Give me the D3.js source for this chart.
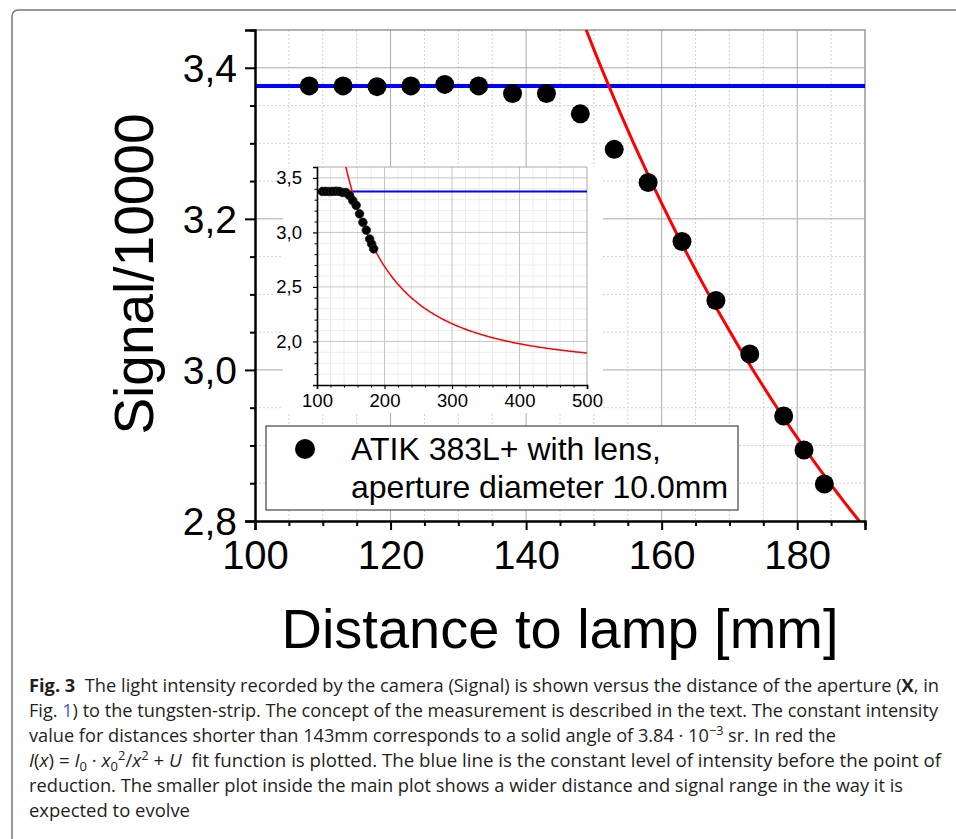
<!DOCTYPE html>
<html>
<head>
<meta charset="utf-8">
<script src="https://cdn.jsdelivr.net/npm/d3@7"></script>
<style>
  body { margin: 0; background: #fff; }
  svg { display: block; }
</style>
</head>
<body>
<svg id="chart"></svg>
<script>
/* CONSTANTS AND GLOBALS */
const width = 956, height = 839;
const font = "'Liberation Sans', Arial, sans-serif";

/* DATA */
// distance to lamp [mm] and signal/10000
const distance = [108, 113, 118, 123, 128, 133, 138, 143, 148, 153, 158, 163, 168, 173, 178, 181, 184];
const signal = [3.376, 3.376, 3.375, 3.376, 3.378, 3.376, 3.366, 3.366, 3.339, 3.292, 3.248, 3.170, 3.092, 3.021, 2.939, 2.894, 2.849];
// constant level (blue) and fit I(x) = I0 * x0^2 / x^2 + U (red)
const blueLevel = 3.376;
const fitI0 = 1.634, fitX0 = 152.2, fitU = 1.742;

const mainXTicks = [100, 120, 140, 160, 180];
const mainYTicks = [2.8, 3.0, 3.2, 3.4];
const insetXTicks = [100, 200, 300, 400, 500];
const insetYTicks = [2.0, 2.5, 3.0, 3.5];
const legendLines = ["ATIK 383L+ with lens,", "aperture diameter 10.0mm"];

const fit = d => fitI0 * fitX0 * fitX0 / (d * d) + fitU;
const comma = d => d3.format(".1f")(d).replace(".", ",");

const svg = d3.select("#chart")
  .attr("width", width)
  .attr("height", height);

// outer figure frame
svg.append("rect")
  .attr("x", 12).attr("y", 10)
  .attr("width", 1000).attr("height", 900)
  .attr("rx", 6)
  .attr("fill", "none")
  .attr("stroke", "#777")
  .attr("stroke-width", 1.5);

/* MAIN PLOT SCALES */
const m = { left: 255, right: 865, top: 30, bottom: 521 };
const xScale = d3.scaleLinear().domain([100, 190]).range([m.left, m.right]);
const yScale = d3.scaleLinear().domain([2.8, 3.45]).range([m.bottom, m.top]);

const xMinor = d3.range(105, 190, 5).filter(d => d % 20 !== 0);
const yMinor = d3.range(57, 70).map(k => +(k * 0.05).toFixed(2)).filter(d => !mainYTicks.includes(d));

// grid
const grid = svg.append("g");
grid.selectAll(".vminor").data(xMinor).join("line")
  .attr("x1", d => xScale(d)).attr("x2", d => xScale(d))
  .attr("y1", m.top).attr("y2", m.bottom)
  .attr("stroke", "#d2d2d2").attr("stroke-dasharray", "2,2");
grid.selectAll(".hminor").data(yMinor).join("line")
  .attr("x1", m.left).attr("x2", m.right)
  .attr("y1", d => yScale(d)).attr("y2", d => yScale(d))
  .attr("stroke", "#d2d2d2").attr("stroke-dasharray", "2,2");
grid.selectAll(".vmajor").data(mainXTicks.slice(1)).join("line")
  .attr("x1", d => xScale(d)).attr("x2", d => xScale(d))
  .attr("y1", m.top).attr("y2", m.bottom)
  .attr("stroke", "#aaa");
grid.selectAll(".hmajor").data(mainYTicks.slice(1)).join("line")
  .attr("x1", m.left).attr("x2", m.right)
  .attr("y1", d => yScale(d)).attr("y2", d => yScale(d))
  .attr("stroke", "#aaa");
// top / right frame
grid.append("path")
  .attr("d", `M${m.left},${m.top}H${m.right}V${m.bottom}`)
  .attr("fill", "none").attr("stroke", "#999").attr("stroke-width", 1.5);

// blue constant level
svg.append("line")
  .attr("x1", m.left).attr("x2", m.right)
  .attr("y1", yScale(blueLevel)).attr("y2", yScale(blueLevel))
  .attr("stroke", "#0000ff").attr("stroke-width", 4);

// red fit, clipped to the plot
svg.append("clipPath").attr("id", "clipMain")
  .append("rect")
  .attr("x", m.left).attr("y", m.top)
  .attr("width", m.right - m.left).attr("height", m.bottom - m.top);

const fitXs = d3.range(140, 191, 1);
svg.append("path")
  .datum(fitXs)
  .attr("clip-path", "url(#clipMain)")
  .attr("fill", "none")
  .attr("stroke", "#ff0000")
  .attr("stroke-width", 3)
  .attr("d", d3.line().x(d => xScale(d)).y(d => yScale(fit(d))));

// points
svg.append("g").selectAll("circle")
  .data(distance)
  .join("circle")
  .attr("cx", d => xScale(d))
  .attr("cy", (d, i) => yScale(signal[i]))
  .attr("r", 9.5)
  .attr("fill", "#000");

/* INSET */
const im = { left: 317, right: 587, top: 167, bottom: 385 };
const xInset = d3.scaleLinear().domain([100, 500]).range([im.left, im.right]);
const yInset = d3.scaleLinear().domain([1.6, 3.6]).range([im.bottom, im.top]);

const inset = svg.append("g");
inset.append("rect")
  .attr("x", 283).attr("y", im.top)
  .attr("width", 320).attr("height", 246)
  .attr("fill", "#fff");

const ixMinor = d3.range(120, 500, 20).filter(d => d % 100 !== 0);
const iyMinor = d3.range(17, 36).map(k => +(k * 0.1).toFixed(1)).filter(d => !insetYTicks.includes(d));

inset.selectAll(".ivminor").data(ixMinor).join("line")
  .attr("x1", d => xInset(d)).attr("x2", d => xInset(d))
  .attr("y1", im.top).attr("y2", im.bottom)
  .attr("stroke", "#ececec");
inset.selectAll(".ihminor").data(iyMinor).join("line")
  .attr("x1", im.left).attr("x2", im.right)
  .attr("y1", d => yInset(d)).attr("y2", d => yInset(d))
  .attr("stroke", "#ececec");
inset.selectAll(".ivmajor").data(insetXTicks.slice(1, -1)).join("line")
  .attr("x1", d => xInset(d)).attr("x2", d => xInset(d))
  .attr("y1", im.top).attr("y2", im.bottom)
  .attr("stroke", "#c4c4c4");
inset.selectAll(".ihmajor").data(insetYTicks).join("line")
  .attr("x1", im.left).attr("x2", im.right)
  .attr("y1", d => yInset(d)).attr("y2", d => yInset(d))
  .attr("stroke", "#c4c4c4");
inset.append("path")
  .attr("d", `M${im.left},${im.top}H${im.right}V${im.bottom}`)
  .attr("fill", "none").attr("stroke", "#aaa");

inset.append("line")
  .attr("x1", im.left).attr("x2", im.right)
  .attr("y1", yInset(blueLevel)).attr("y2", yInset(blueLevel))
  .attr("stroke", "#0000ff").attr("stroke-width", 2);

svg.append("clipPath").attr("id", "clipInset")
  .append("rect")
  .attr("x", im.left).attr("y", im.top)
  .attr("width", im.right - im.left).attr("height", im.bottom - im.top);

inset.append("path")
  .datum(d3.range(130, 501, 2))
  .attr("clip-path", "url(#clipInset)")
  .attr("fill", "none")
  .attr("stroke", "#ff0000")
  .attr("stroke-width", 1.5)
  .attr("d", d3.line().x(d => xInset(d)).y(d => yInset(fit(d))));

inset.append("g").selectAll("circle")
  .data(distance)
  .join("circle")
  .attr("cx", d => xInset(d))
  .attr("cy", (d, i) => yInset(signal[i]))
  .attr("r", 4.3)
  .attr("fill", "#000")
  .attr("stroke", "#222")
  .attr("stroke-width", 0.8);

// inset axes
const ixMinorG = inset.append("g").attr("transform", `translate(0,${im.bottom})`)
  .call(d3.axisBottom(xInset).tickValues(ixMinor).tickSize(2.5).tickFormat(""));
ixMinorG.select(".domain").remove();
const ixG = inset.append("g").attr("transform", `translate(0,${im.bottom})`)
  .call(d3.axisBottom(xInset).tickValues(insetXTicks).tickSize(4).tickFormat(d3.format("d")));
ixG.attr("font-size", 18.5).attr("font-family", font);
ixG.selectAll("text").attr("y", 22).attr("dy", null).attr("fill", "#000");

const iyMinorG = inset.append("g").attr("transform", `translate(${im.left},0)`)
  .call(d3.axisLeft(yInset).tickValues(iyMinor).tickSize(2.5).tickFormat(""));
iyMinorG.select(".domain").remove();
const iyG = inset.append("g").attr("transform", `translate(${im.left},0)`)
  .call(d3.axisLeft(yInset).tickValues(insetYTicks).tickSize(4).tickFormat(comma));
iyG.attr("font-size", 18.5).attr("font-family", font);
iyG.selectAll("text").attr("x", -15).attr("fill", "#000");

[ixG, iyG].forEach(g => {
  g.select(".domain").attr("stroke-width", 1.6);
  g.selectAll(".tick line").attr("stroke-width", 1.2);
});

/* LEGEND */
const legend = svg.append("g");
legend.append("rect")
  .attr("x", 266).attr("y", 426)
  .attr("width", 472).attr("height", 84)
  .attr("fill", "#fff")
  .attr("stroke", "#444").attr("stroke-width", 1.2);
legend.append("circle")
  .attr("cx", 305).attr("cy", 449).attr("r", 10).attr("fill", "#000");
legend.selectAll("text").data(legendLines).join("text")
  .attr("x", 351)
  .attr("y", (d, i) => 460 + i * 38)
  .attr("font-family", font)
  .attr("font-size", 32)
  .text(d => d);

/* MAIN AXES */
const xMinorG = svg.append("g").attr("transform", `translate(0,${m.bottom})`)
  .call(d3.axisBottom(xScale).tickValues(xMinor.concat([190])).tickSize(5).tickFormat(""));
xMinorG.select(".domain").remove();
const xAxisG = svg.append("g").attr("transform", `translate(0,${m.bottom})`)
  .call(d3.axisBottom(xScale).tickValues(mainXTicks).tickSize(9).tickFormat(d3.format("d")));
xAxisG.attr("font-size", 40).attr("font-family", font);
xAxisG.selectAll("text").attr("y", 48).attr("dy", null).attr("fill", "#000");

const yMinorG = svg.append("g").attr("transform", `translate(${m.left},0)`)
  .call(d3.axisLeft(yScale).tickValues(yMinor).tickSize(5).tickFormat(""));
yMinorG.select(".domain").remove();
const yAxisG = svg.append("g").attr("transform", `translate(${m.left},0)`)
  .call(d3.axisLeft(yScale).tickValues(mainYTicks).tickSize(10).tickFormat(comma));
yAxisG.attr("font-size", 39).attr("font-family", font);
yAxisG.selectAll("text").attr("x", -18).attr("dy", "0.35em").attr("fill", "#000");

[xMinorG, xAxisG, yMinorG, yAxisG].forEach(g => {
  g.select(".domain").attr("stroke-width", 2.5);
  g.selectAll(".tick line").attr("stroke-width", 2);
});

// axis titles
svg.append("text")
  .attr("x", 560).attr("y", 648)
  .attr("text-anchor", "middle")
  .attr("font-family", font)
  .attr("font-size", 56)
  .text("Distance to lamp [mm]");

svg.append("text")
  .attr("transform", "translate(153,274) rotate(-90)")
  .attr("text-anchor", "middle")
  .attr("font-family", font)
  .attr("font-size", 55)
  .text("Signal/10000");

/* CAPTION */
const cap = svg.append("g")
  .attr("font-family", "'Open Sans', 'Noto Sans', sans-serif")
  .attr("font-size", 18)
  .attr("fill", "#231f20");

const line = (y, len) => cap.append("text")
  .attr("x", 29).attr("y", y)
  .attr("textLength", len)
  .attr("lengthAdjust", "spacingAndGlyphs");

let t = line(692, 910);
t.append("tspan").attr("font-weight", "bold").text("Fig. 3");
t.append("tspan").text("\u00a0 The light intensity recorded by the camera (Signal) is shown versus the distance of the aperture (");
t.append("tspan").attr("font-weight", "bold").text("X");
t.append("tspan").text(", in");

t = line(717, 909);
t.append("tspan").text("Fig. ");
t.append("tspan").attr("fill", "#3b5ed8").text("1");
t.append("tspan").text(") to the tungsten-strip. The concept of the measurement is described in the text. The constant intensity");

t = line(742, 807);
t.append("tspan").text("value for distances shorter than 143mm corresponds to a solid angle of 3.84 \u00b7 10");
t.append("tspan").attr("font-size", 12.5).attr("dy", -7).text("\u22123");
t.append("tspan").attr("dy", 7).text(" sr. In red the");

t = line(767, 912);
t.append("tspan").attr("font-style", "italic").text("I");
t.append("tspan").text("(");
t.append("tspan").attr("font-style", "italic").text("x");
t.append("tspan").text(") = ");
t.append("tspan").attr("font-style", "italic").text("I");
t.append("tspan").attr("font-size", 12.5).attr("dy", 4).text("0");
t.append("tspan").attr("dy", -4).text(" \u00b7 ");
t.append("tspan").attr("font-style", "italic").text("x");
t.append("tspan").attr("font-size", 12.5).attr("dy", 4).text("0");
t.append("tspan").attr("font-size", 12.5).attr("dy", -11).text("2");
t.append("tspan").attr("dy", 7).text("/");
t.append("tspan").attr("font-style", "italic").text("x");
t.append("tspan").attr("font-size", 12.5).attr("dy", -7).text("2");
t.append("tspan").attr("dy", 7).text(" + ");
t.append("tspan").attr("font-style", "italic").text("U");
t.append("tspan").text("\u00a0 fit function is plotted. The blue line is the constant level of intensity before the point of");

line(792, 874).text("reduction. The smaller plot inside the main plot shows a wider distance and signal range in the way it is");
line(817, 161).text("expected to evolve");
</script>
</body>
</html>
